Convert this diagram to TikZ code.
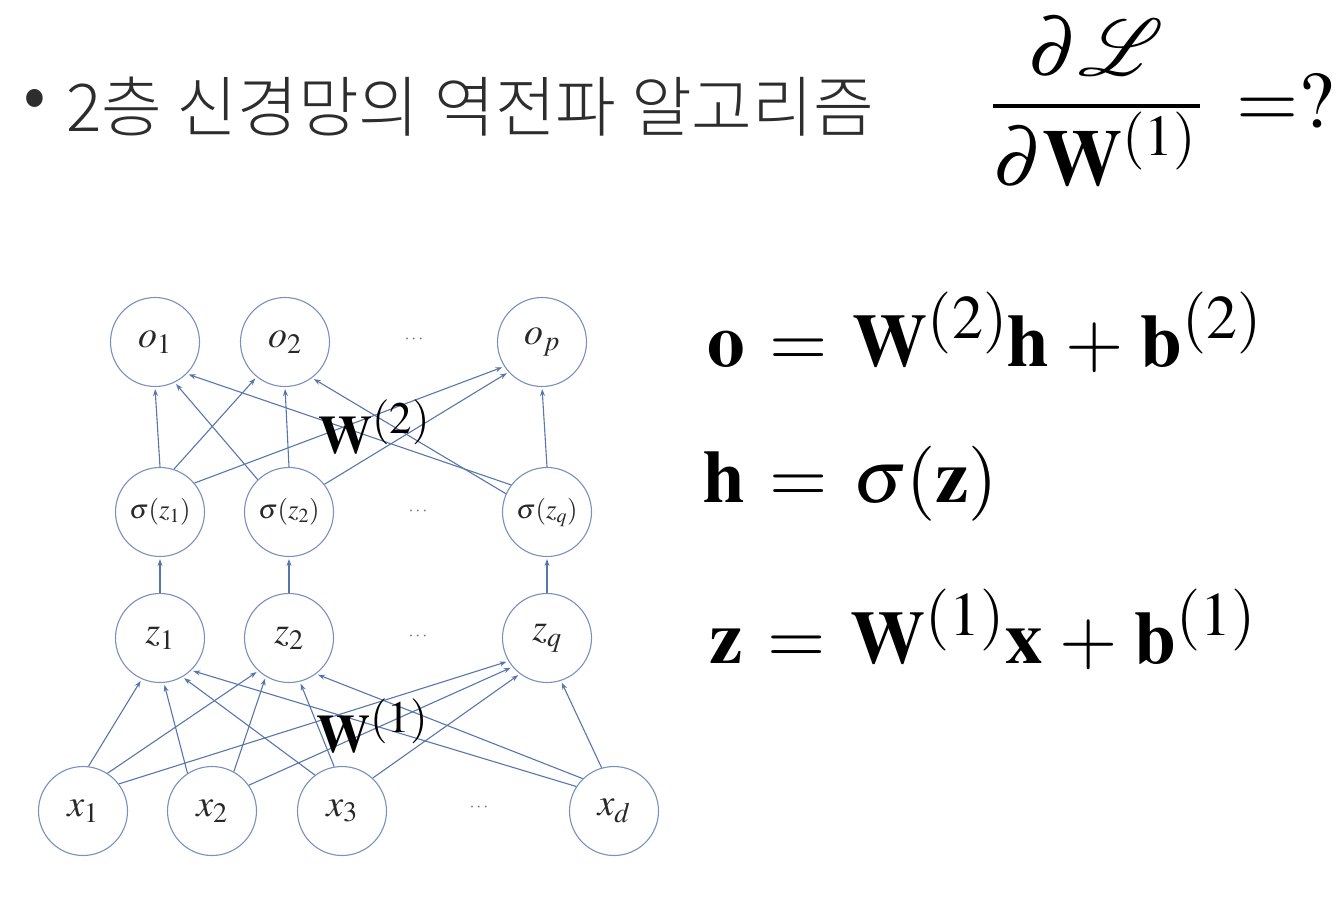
\documentclass[tikz,border=0pt]{standalone}
\usepackage{mathptmx}
\usepackage[no-math]{fontspec}
\newfontfamily\krfont{Noto Sans CJK KR Light}
\DeclareMathSizes{75}{75}{62}{50}
\DeclareMathSizes{80}{80}{58}{46}
\DeclareMathSizes{54}{54}{45}{36}
\usetikzlibrary{arrows.meta}
\definecolor{nodecol}{RGB}{120,145,190}
\definecolor{edgecol}{RGB}{88,118,172}
\definecolor{labcol}{RGB}{40,40,40}
\definecolor{krcol}{RGB}{45,45,45}
\definecolor{dotcol}{RGB}{120,120,120}
\newcommand{\eqspacing}{\thickmuskip=6mu\medmuskip=4mu}
\begin{document}
\begin{tikzpicture}[x=1pt,y=-1pt,
  neuron/.style={circle, draw=nodecol, line width=1.1pt, minimum size=89pt, inner sep=0pt, text=labcol, font=\fontsize{38}{42}\selectfont},
  sneuron/.style={neuron, font=\fontsize{27}{30}\selectfont},
  conn/.style={draw=edgecol, line width=1.1pt, -{Stealth[length=7pt,width=5pt]}, shorten >=2pt},
  dots/.style={text=dotcol, inner sep=0pt, font=\fontsize{18}{20}\selectfont},
  eqn/.style={anchor=base west, inner sep=0pt, text=black, font=\fontsize{75}{90}\selectfont},
  fracpart/.style={anchor=base, inner sep=0pt, text=black, font=\fontsize{80}{96}\selectfont},
  wlab/.style={anchor=base west, inner sep=0pt, text=black, font=\fontsize{54}{60}\selectfont}]
\useasboundingbox (0,0) rectangle (1340,907);

% title
\node[inner sep=0pt, text=krcol, font=\krfont\fontsize{72}{80}\selectfont] (bullet) at (35,104) {•};
\node[anchor=base west, inner sep=0pt, text=krcol, font=\krfont\fontsize{66}{76}\selectfont] (title) at (66,131) {2층 신경망의 역전파 알고리즘};

% fraction dL/dW(1) = ?
\node[fracpart] (num) at (1096,75) {$\partial\smash{\mathcal{L}}$};
\node[fracpart] (den) at (1095,185) {$\partial\mathbf{W}^{(1)}$};
\draw[line width=3.5pt, black] (993,106) -- (1200,106);
\node[fracpart, anchor=base west] (eqq) at (1236,127) {$=?$};

% output layer
\node[neuron] (o1) at (155,342) {$o_1$};
\node[neuron] (o2) at (285,342) {$o_2$};
\node[dots] (d1) at (414,340) {$\cdots$};
\node[neuron] (op) at (542,342) {$o_p$};
% activation layer
\node[sneuron] (s1) at (160,512) {$\sigma(z_1)$};
\node[sneuron] (s2) at (289,512) {$\sigma(z_2)$};
\node[dots] (d2) at (418,512) {$\cdots$};
\node[sneuron] (sq) at (547,512) {$\sigma(z_q)$};
% hidden layer
\node[neuron] (z1) at (160,638) {$z_1$};
\node[neuron] (z2) at (289,638) {$z_2$};
\node[dots] (d3) at (418,637) {$\cdots$};
\node[neuron] (zq) at (547,638) {$z_q$};
% input layer
\node[neuron] (x1) at (83,811) {$x_1$};
\node[neuron] (x2) at (212,811) {$x_2$};
\node[neuron] (x3) at (342,811) {$x_3$};
\node[dots] (d4) at (479,808) {$\cdots$};
\node[neuron] (xd) at (614,811) {$x_d$};

% hidden -> output
\draw[conn] (s1.90) -- (o1.-90);
\draw[conn] (s1.72) -- (o2.-129);
\draw[conn] (s1.40) -- (op.-147);
\draw[conn] (s2.134) -- (o1.-64);
\draw[conn] (s2.90) -- (o2.-90);
\draw[conn] (s2.38) -- (op.-138);
\draw[conn] (sq.143) -- (o1.-45);
\draw[conn] (sq.156) -- (o2.-53);
\draw[conn] (sq.90) -- (op.-90);
% z -> sigma
\draw[conn] (z1.90) -- (s1.-90);
\draw[conn] (z2.90) -- (s2.-90);
\draw[conn] (zq.90) -- (sq.-90);
% input -> hidden
\draw[conn] (x1.83) -- (z1.-114);
\draw[conn] (x1.57) -- (z2.-133);
\draw[conn] (x1.37) -- (zq.-149);
\draw[conn] (x2.123) -- (z1.-85);
\draw[conn] (x2.61) -- (z2.-121);
\draw[conn] (x2.35) -- (zq.-140);
\draw[conn] (x3.127) -- (z1.-60);
\draw[conn] (x3.100) -- (z2.-76);
\draw[conn] (x3.47) -- (zq.-127);
\draw[conn] (xd.147) -- (z1.-46);
\draw[conn] (xd.134) -- (z2.-53);
\draw[conn] (xd.106) -- (zq.-72);

% weight labels
\node[wlab] (w2) at (318,453) {$\mathbf{W}^{(2)}$};
\node[wlab] (w1) at (316,752) {$\mathbf{W}^{(1)}$};

% equations
\node[eqn] (e1) at (707,366) {\eqspacing$\mathbf{o} = \mathbf{W}^{(2)}\mathbf{h} + \mathbf{b}^{(2)}$};
\node[eqn] (e2) at (703,502) {\eqspacing$\mathbf{h} = \sigma(\mathbf{z})$};
\node[eqn] (e3) at (709,663) {\eqspacing$\mathbf{z} = \mathbf{W}^{(1)}\mathbf{x} + \mathbf{b}^{(1)}$};
\end{tikzpicture}
\end{document}
